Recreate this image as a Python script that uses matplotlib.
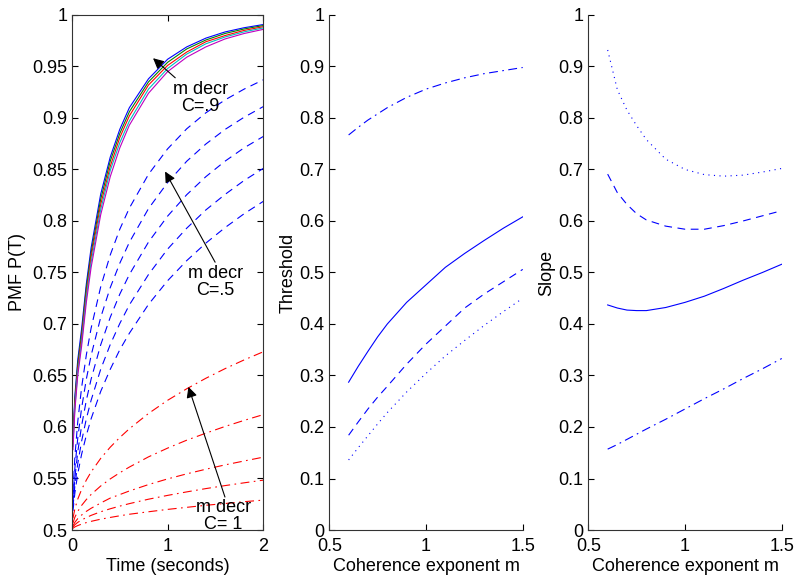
import numpy as np
import matplotlib.pyplot as plt
from matplotlib.ticker import FuncFormatter

plt.rcParams['font.family'] = ['Liberation Sans', 'DejaVu Sans']
plt.rcParams['font.size'] = 13

# ---- left panel: PMF vs time ----
t = [0.01, 0.03, 0.06, 0.1, 0.15, 0.2, 0.3, 0.4, 0.5, 0.6, 0.8, 1.0, 1.2, 1.4, 1.6, 1.8, 2.0]

# C = .9, five values of m (solid, coloured)
c9_colors = ['b', 'g', 'r', 'c', 'm']
c9_curves = [
    [0.590, 0.630, 0.665, 0.695, 0.739, 0.774, 0.826, 0.862, 0.889, 0.910, 0.938, 0.957, 0.969, 0.9775, 0.9835, 0.9876, 0.9907],
    [0.587, 0.626, 0.661, 0.690, 0.735, 0.769, 0.821, 0.858, 0.885, 0.906, 0.935, 0.954, 0.967, 0.9757, 0.982, 0.9864, 0.9897],
    [0.584, 0.622, 0.657, 0.686, 0.730, 0.765, 0.816, 0.853, 0.881, 0.902, 0.932, 0.951, 0.964, 0.974, 0.980, 0.985, 0.9886],
    [0.581, 0.619, 0.653, 0.682, 0.726, 0.760, 0.811, 0.849, 0.876, 0.897, 0.928, 0.948, 0.962, 0.972, 0.9786, 0.9836, 0.9874],
    [0.578, 0.616, 0.650, 0.678, 0.721, 0.755, 0.806, 0.843, 0.871, 0.893, 0.924, 0.945, 0.959, 0.969, 0.9767, 0.982, 0.986],
]

# C = .5 (blue dashed)
c5_curves = [
    [0.537, 0.571, 0.605, 0.638, 0.670, 0.696, 0.736, 0.767, 0.792, 0.8125, 0.8453, 0.870, 0.8895, 0.905, 0.9175, 0.928, 0.937],
    [0.5313, 0.560, 0.589, 0.618, 0.6465, 0.6695, 0.7063, 0.7353, 0.759, 0.7793, 0.812, 0.8373, 0.858, 0.8747, 0.8888, 0.9007, 0.911],
    [0.526, 0.5505, 0.5757, 0.601, 0.626, 0.6465, 0.6797, 0.7065, 0.729, 0.748, 0.7795, 0.8047, 0.8255, 0.843, 0.858, 0.871, 0.882],
    [0.522, 0.543, 0.5643, 0.586, 0.608, 0.626, 0.656, 0.680, 0.7005, 0.7185, 0.748, 0.7727, 0.793, 0.8107, 0.8257, 0.8393, 0.851],
    [0.5185, 0.536, 0.5545, 0.5733, 0.592, 0.608, 0.6345, 0.656, 0.675, 0.691, 0.719, 0.742, 0.7615, 0.7785, 0.7935, 0.807, 0.819],
]

# C = 1 (red dash-dot)
c1_curves = [
    [0.5114, 0.5206, 0.5299, 0.5392, 0.5485, 0.5564, 0.5695, 0.5804, 0.5898, 0.5983, 0.6131, 0.6259, 0.6371, 0.6473, 0.6566, 0.6651, 0.673],
    [0.5068, 0.5124, 0.5181, 0.5238, 0.5296, 0.5345, 0.5427, 0.5496, 0.5556, 0.5611, 0.571, 0.5795, 0.5872, 0.594, 0.6005, 0.6064, 0.612],
    [0.5041, 0.5075, 0.511, 0.5145, 0.5181, 0.5211, 0.5262, 0.531, 0.5344, 0.5379, 0.5441, 0.5496, 0.5545, 0.559, 0.5632, 0.567, 0.5707],
    [0.5028, 0.5051, 0.5074, 0.5097, 0.5121, 0.5142, 0.5177, 0.5206, 0.5232, 0.5256, 0.5299, 0.5336, 0.537, 0.5402, 0.5431, 0.5458, 0.5484],
    [0.5016, 0.503, 0.5043, 0.5057, 0.5072, 0.5084, 0.5105, 0.5122, 0.5138, 0.5153, 0.5177, 0.52, 0.522, 0.524, 0.5257, 0.5275, 0.529],
]

# ---- middle / right panels: vs coherence exponent m ----
m = [0.6, 0.65, 0.7, 0.75, 0.8, 0.9, 1.0, 1.1, 1.2, 1.3, 1.4, 1.5]

thr_solid = [0.287, 0.318, 0.347, 0.375, 0.400, 0.442, 0.476, 0.510, 0.537, 0.562, 0.586, 0.608]
thr_dash = [0.184, 0.210, 0.235, 0.258, 0.279, 0.322, 0.361, 0.396, 0.431, 0.458, 0.482, 0.506]
thr_dot = [0.136, 0.160, 0.183, 0.206, 0.228, 0.268, 0.304, 0.338, 0.368, 0.397, 0.424, 0.450]
thr_dashdot = [0.767, 0.782, 0.796, 0.808, 0.820, 0.840, 0.856, 0.868, 0.878, 0.886, 0.892, 0.898]

slope_solid = [0.437, 0.431, 0.427, 0.426, 0.426, 0.432, 0.442, 0.454, 0.469, 0.485, 0.500, 0.516]
slope_dash = [0.691, 0.655, 0.632, 0.614, 0.602, 0.590, 0.584, 0.584, 0.591, 0.600, 0.610, 0.620]
slope_dot = [0.932, 0.855, 0.815, 0.785, 0.758, 0.720, 0.700, 0.690, 0.687, 0.689, 0.695, 0.702]
slope_dashdot = [0.157, 0.166, 0.176, 0.186, 0.196, 0.215, 0.235, 0.255, 0.274, 0.294, 0.313, 0.333]

fmt = FuncFormatter(lambda v, pos: '%g' % round(v, 3))
LW = 0.8

fig = plt.figure(figsize=(8, 5.8), dpi=100)
ax1 = fig.add_axes([0.09, 0.0862, 0.239, 0.888])
ax2 = fig.add_axes([0.4116, 0.0862, 0.2418, 0.888])
ax3 = fig.add_axes([0.7354, 0.0862, 0.2418, 0.888])

for c, y in zip(c9_colors, c9_curves):
    ax1.plot(t, y, color=c, lw=LW)
for y in c5_curves:
    ax1.plot(t, y, color='b', lw=LW, dashes=(7, 5))
for y in c1_curves:
    ax1.plot(t, y, color='r', lw=LW, dashes=(8, 4, 1.5, 4))

arrow = dict(arrowstyle='-|>', color='k', lw=0.8, mutation_scale=16, shrinkA=0, shrinkB=0)
ax1.annotate('', xy=(0.848, 0.958), xytext=(1.08, 0.939), arrowprops=arrow)
ax1.text(1.34, 0.919, 'm decr\nC=.9', ha='center', va='center', linespacing=1.0)
ax1.annotate('', xy=(0.974, 0.848), xytext=(1.497, 0.760), arrowprops=arrow)
ax1.text(1.50, 0.741, 'm decr\nC=.5', ha='center', va='center', linespacing=1.0)
ax1.annotate('', xy=(1.218, 0.639), xytext=(1.60, 0.532), arrowprops=arrow)
ax1.text(1.585, 0.514, 'm decr\nC= 1', ha='center', va='center', linespacing=1.0)

ax1.set_xlim(0, 2)
ax1.set_ylim(0.5, 1)
ax1.set_xticks([0, 1, 2])
ax1.set_yticks(np.arange(0.5, 1.001, 0.05))
ax1.yaxis.set_major_formatter(fmt)
ax1.set_xlabel('Time (seconds)', labelpad=2)
ax1.set_ylabel('PMF P(T)')
ax1.tick_params(direction='in', length=4, top=True, right=True)
ax1.tick_params(axis='x', pad=6)

ax2.plot(m, thr_solid, color='b', lw=LW)
ax2.plot(m, thr_dash, color='b', lw=LW, dashes=(7, 5))
ax2.plot(m, thr_dot, color='b', lw=LW, dashes=(1, 4))
ax2.plot(m, thr_dashdot, color='b', lw=LW, dashes=(8, 4, 1.5, 4))
ax2.set_ylabel('Threshold', labelpad=2)

ax3.plot(m, slope_solid, color='b', lw=LW)
ax3.plot(m, slope_dash, color='b', lw=LW, dashes=(7, 5))
ax3.plot(m, slope_dot, color='b', lw=LW, dashes=(1, 4))
ax3.plot(m, slope_dashdot, color='b', lw=LW, dashes=(8, 4, 1.5, 4))
ax3.set_ylabel('Slope', labelpad=2)

for ax in (ax2, ax3):
    ax.set_xlim(0.5, 1.5)
    ax.set_ylim(0, 1)
    ax.set_xticks([0.5, 1, 1.5])
    ax.set_yticks(np.arange(0, 1.001, 0.1))
    ax.xaxis.set_major_formatter(fmt)
    ax.yaxis.set_major_formatter(fmt)
    ax.set_xlabel('Coherence exponent m', labelpad=2)
    ax.spines['top'].set_visible(False)
    ax.spines['right'].set_visible(False)
    ax.tick_params(direction='in', length=4)
    ax.tick_params(axis='x', pad=6)

for ax in (ax1, ax2, ax3):
    for s in ax.spines.values():
        s.set_color('#333333')

fig.savefig('out.png', dpi=100)
